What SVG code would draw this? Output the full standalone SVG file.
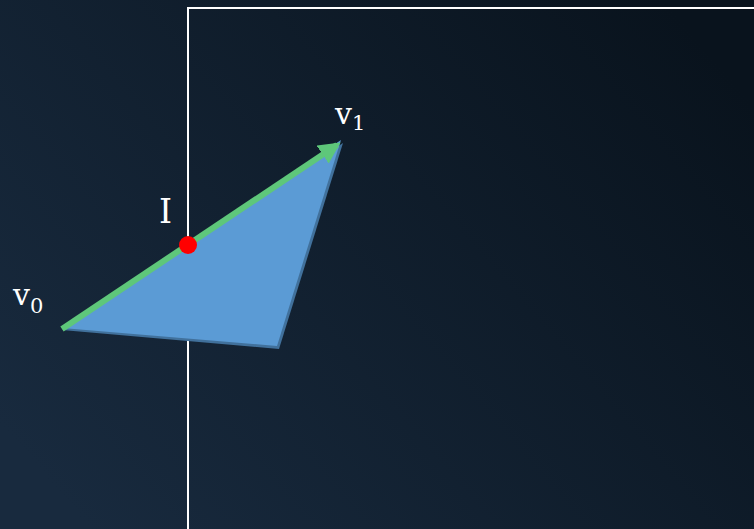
<svg xmlns="http://www.w3.org/2000/svg" width="754" height="529" viewBox="0 0 754 529">
<defs>
<linearGradient id="bg" x1="0" y1="0.8" x2="1" y2="0.2">
<stop offset="0" stop-color="#182a3e"/>
<stop offset="1" stop-color="#09131d"/>
</linearGradient>
<marker id="ah" viewBox="0 0 10 10" refX="8" refY="5" markerWidth="3.6" markerHeight="3.6" orient="auto" markerUnits="strokeWidth">
<path d="M0,0 L10,5 L0,10 Z" fill="#5ec77a"/>
</marker>
<style>
.lbl{font-family:"DejaVu Serif","Liberation Serif",serif;fill:#ffffff}
</style>
</defs>
<rect width="754" height="529" fill="url(#bg)"/>
<g id="frame">
<path d="M188,529 V8 H754" fill="none" stroke="#ffffff" stroke-width="2"/>
</g>
<g id="triangle">
<polygon points="62,330 343,143 279,349" fill="#41719c"/>
<polygon points="62,328 341,140 277,346" fill="#5b9bd5"/>
</g>
<g id="connectors">
<line x1="62" y1="329" x2="337" y2="145" stroke="#5ec77a" stroke-width="6" marker-end="url(#ah)"/>
</g>
<g id="point-I">
<circle cx="188" cy="245" r="9" fill="#ff0000"/>
<text class="lbl" x="159" y="223" font-size="33">I</text>
</g>
<g id="label-v0">
<text class="lbl" x="13" y="305" font-size="30">v<tspan font-size="21" dy="8">0</tspan></text>
</g>
<g id="label-v1">
<text class="lbl" x="335" y="124" font-size="30">v<tspan font-size="21" dy="6">1</tspan></text>
</g>
</svg>
